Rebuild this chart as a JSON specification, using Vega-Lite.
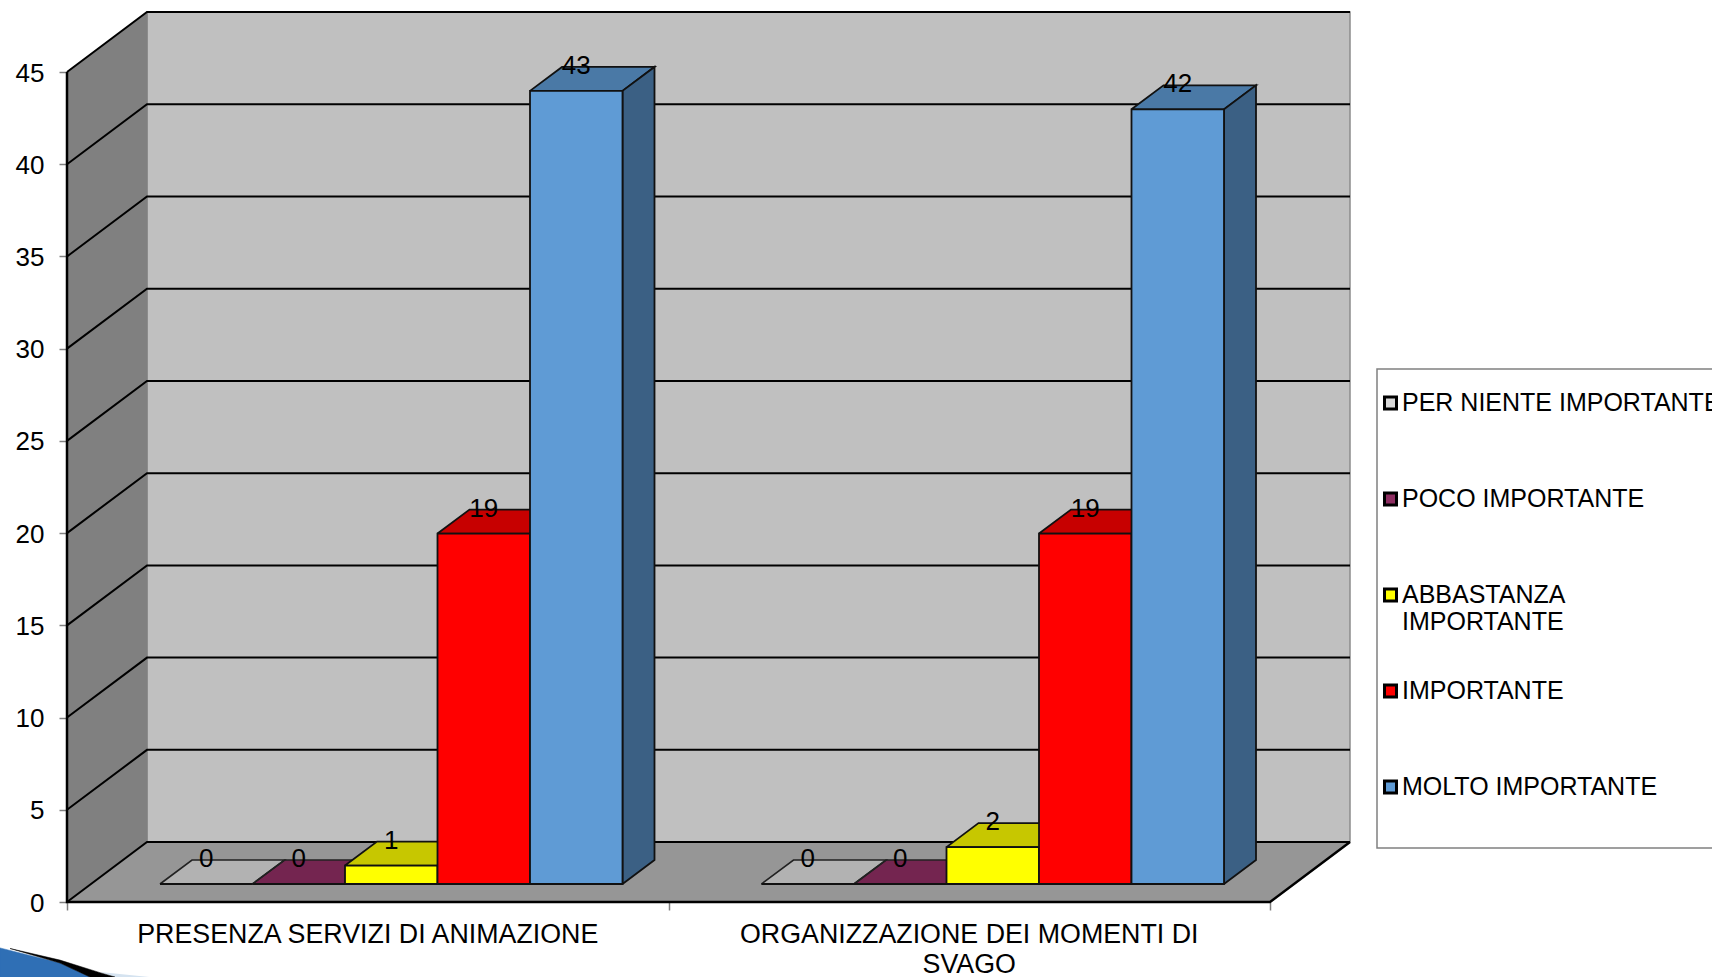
{
"$schema":"https://vega.github.io/schema/vega-lite/v6.json",
"width":1203,"height":830,
"autosize":{"type":"none"},
"padding":{"left":67,"top":72,"right":442,"bottom":75},
"background":"white",
"config":{"view":{"stroke":null},"text":{"font":"Liberation Sans"}},
"datasets":{
"bars":[
{"category":"PRESENZA SERVIZI DI ANIMAZIONE","series":"PER NIENTE IMPORTANTE","value":0},
{"category":"PRESENZA SERVIZI DI ANIMAZIONE","series":"POCO IMPORTANTE","value":0},
{"category":"PRESENZA SERVIZI DI ANIMAZIONE","series":"ABBASTANZA IMPORTANTE","value":1},
{"category":"PRESENZA SERVIZI DI ANIMAZIONE","series":"IMPORTANTE","value":19},
{"category":"PRESENZA SERVIZI DI ANIMAZIONE","series":"MOLTO IMPORTANTE","value":43},
{"category":"ORGANIZZAZIONE DEI MOMENTI DI SVAGO","series":"PER NIENTE IMPORTANTE","value":0},
{"category":"ORGANIZZAZIONE DEI MOMENTI DI SVAGO","series":"POCO IMPORTANTE","value":0},
{"category":"ORGANIZZAZIONE DEI MOMENTI DI SVAGO","series":"ABBASTANZA IMPORTANTE","value":2},
{"category":"ORGANIZZAZIONE DEI MOMENTI DI SVAGO","series":"IMPORTANTE","value":19},
{"category":"ORGANIZZAZIONE DEI MOMENTI DI SVAGO","series":"MOLTO IMPORTANTE","value":42}
],
"ticks":[{"v":0},{"v":5},{"v":10},{"v":15},{"v":20},{"v":25},{"v":30},{"v":35},{"v":40},{"v":45}],
"cats":[{"category":"PRESENZA SERVIZI DI ANIMAZIONE","c":0},{"category":"ORGANIZZAZIONE DEI MOMENTI DI SVAGO","c":1}],
"one":[{"part":"shape"}]
},
"layer":[
{"data":{"name":"one"},
 "transform":[{"calculate":"[80,1283,1283,80,80]","as":"px"},{"calculate":"[3.25,3.25,48.25,48.25,3.25]","as":"py"},{"calculate":"[0,1,2,3,4]","as":"k"},{"flatten":["px","py","k"]}],
 "mark":{"type":"line","fill":"#c0c0c0","stroke":"#8c8c8c","strokeWidth":1.5},
 "encoding":{
  "x":{"field":"px","type":"quantitative","scale":{"domain":[0,1203],"nice":false,"zero":false},"axis":{"values":[0,601.5,1203],"labels":false,"domain":false,"grid":false,"title":null,"tickColor":"#808080","tickSize":8,"tickWidth":1.5}},
  "y":{"field":"py","type":"quantitative","scale":{"domain":[0,45],"nice":false,"zero":false},"axis":{"values":[0,5,10,15,20,25,30,35,40,45],"domain":false,"grid":false,"title":null,"tickColor":"#808080","tickSize":8,"tickWidth":1.5,"labelFont":"Liberation Sans","labelFontSize":26,"labelColor":"black","labelPadding":15,"labelOffset":1}},
  "order":{"field":"k","type":"ordinal"}}},
{"data":{"name":"one"},
 "transform":[{"calculate":"[0,80,80,0,0]","as":"px"},{"calculate":"[0,3.25,48.25,45,0]","as":"py"},{"calculate":"[0,1,2,3,4]","as":"k"},{"flatten":["px","py","k"]}],
 "mark":{"type":"line","fill":"#808080","stroke":"#808080","strokeWidth":1},
 "encoding":{
  "x":{"field":"px","type":"quantitative"},
  "y":{"field":"py","type":"quantitative"},
  "order":{"field":"k","type":"ordinal"}}},
{"data":{"name":"one"},
 "transform":[{"calculate":"[0,1203,1283,80,0]","as":"px"},{"calculate":"[0,0,3.25,3.25,0]","as":"py"},{"calculate":"[0,1,2,3,4]","as":"k"},{"flatten":["px","py","k"]}],
 "mark":{"type":"line","fill":"#969696","stroke":"#969696","strokeWidth":1},
 "encoding":{
  "x":{"field":"px","type":"quantitative"},
  "y":{"field":"py","type":"quantitative"},
  "order":{"field":"k","type":"ordinal"}}},
{"data":{"name":"ticks"},
 "transform":[{"calculate":"[0,80,1283]","as":"px"},{"calculate":"[datum.v,datum.v+3.25,datum.v+3.25]","as":"py"},{"calculate":"[0,1,2]","as":"k"},{"flatten":["px","py","k"]}],
 "mark":{"type":"line","stroke":"black","strokeWidth":2},
 "encoding":{
  "x":{"field":"px","type":"quantitative"},
  "y":{"field":"py","type":"quantitative"},
  "detail":{"field":"v"},
  "order":{"field":"k","type":"ordinal"}}},
{"data":{"name":"one"},
 "transform":[{"calculate":"[0,0,1203,1283]","as":"px"},{"calculate":"[45,0,0,3.25]","as":"py"},{"calculate":"[0,1,2,3]","as":"k"},{"flatten":["px","py","k"]}],
 "mark":{"type":"line","stroke":"black","strokeWidth":2.5},
 "encoding":{
  "x":{"field":"px","type":"quantitative"},
  "y":{"field":"py","type":"quantitative"},
  "order":{"field":"k","type":"ordinal"}}},
{"data":{"name":"one"},
 "transform":[{"calculate":"[33,83,48,33]","as":"px"},{"calculate":"[-3.8,-4.07,-4.07,-3.8]","as":"py"},{"calculate":"[0,1,2,3]","as":"k"},{"flatten":["px","py","k"]}],
 "mark":{"type":"line","fill":"#d5e3f0","stroke":null},
 "encoding":{
  "x":{"field":"px","type":"quantitative"},
  "y":{"field":"py","type":"quantitative"},
  "order":{"field":"k","type":"ordinal"}}},
{"data":{"name":"one"},
 "transform":[{"calculate":"[-67,-7,23,-67,-67]","as":"px"},{"calculate":"[-2.49,-3.31,-4.07,-4.07,-2.49]","as":"py"},{"calculate":"[0,1,2,3,4]","as":"k"},{"flatten":["px","py","k"]}],
 "mark":{"type":"line","fill":"#2f6fb5","stroke":"#2f6fb5","strokeWidth":0.5},
 "encoding":{
  "x":{"field":"px","type":"quantitative"},
  "y":{"field":"py","type":"quantitative"},
  "order":{"field":"k","type":"ordinal"}}},
{"data":{"name":"one"},
 "transform":[{"calculate":"[-57,-7,33,48,23,-7,-57]","as":"px"},{"calculate":"[-2.52,-3.15,-3.83,-4.07,-4.07,-3.31,-2.52]","as":"py"},{"calculate":"[0,1,2,3,4,5,6]","as":"k"},{"flatten":["px","py","k"]}],
 "mark":{"type":"line","fill":"black","stroke":"black","strokeWidth":0.5},
 "encoding":{
  "x":{"field":"px","type":"quantitative"},
  "y":{"field":"py","type":"quantitative"},
  "order":{"field":"k","type":"ordinal"}}},
{"data":{"name":"one"},
 "mark":{"type":"rect","fill":"white","stroke":"#808080","strokeWidth":1.5},
 "encoding":{
  "x":{"datum":1310,"type":"quantitative"},
  "x2":{"datum":1700},
  "y":{"datum":28.9,"type":"quantitative"},
  "y2":{"datum":2.93}}},
{"data":{"name":"bars"},
 "transform":[
  {"calculate":"indexof(['PRESENZA SERVIZI DI ANIMAZIONE','ORGANIZZAZIONE DEI MOMENTI DI SVAGO'],datum.category)","as":"c"},
  {"calculate":"indexof(['PER NIENTE IMPORTANTE','POCO IMPORTANTE','ABBASTANZA IMPORTANTE','IMPORTANTE','MOLTO IMPORTANTE'],datum.series)","as":"s"},
  {"calculate":"datum.c*601.5+93+datum.s*92.5","as":"x0"},
  {"calculate":"datum.x0+92.5","as":"x1"},
  {"calculate":"0.976","as":"yb"},
  {"calculate":"datum.value+0.976","as":"yt"}
 ],
 "layer":[
  {"transform":[{"filter":"datum.value==0"},{"calculate":"[datum.x0,datum.x1,datum.x1+32,datum.x0+32,datum.x0]","as":"px"},{"calculate":"[datum.yt,datum.yt,datum.yt+1.3,datum.yt+1.3,datum.yt]","as":"py"},{"calculate":"[0,1,2,3,4]","as":"k"},{"flatten":["px","py","k"]}],
   "encoding":{
    "x":{"field":"px","type":"quantitative"},
    "y":{"field":"py","type":"quantitative"},
    "detail":[{"field":"category"},{"field":"series"}],
    "order":{"field":"k","type":"ordinal"}},
   "layer":[
    {"mark":{"type":"line","stroke":null},"encoding":{"fill":{"field":"series","type":"nominal"}}},
    {"mark":{"type":"line","fill":"black","fillOpacity":0.18,"stroke":"#222222","strokeWidth":1.6}}
   ]},
  {"transform":[{"filter":"datum.value>0"},{"calculate":"[datum.x0,datum.x1,datum.x1+32,datum.x0+32,datum.x0]","as":"px"},{"calculate":"[datum.yt,datum.yt,datum.yt+1.3,datum.yt+1.3,datum.yt]","as":"py"},{"calculate":"[0,1,2,3,4]","as":"k"},{"flatten":["px","py","k"]}],
   "encoding":{
    "x":{"field":"px","type":"quantitative"},
    "y":{"field":"py","type":"quantitative"},
    "detail":[{"field":"category"},{"field":"series"}],
    "order":{"field":"k","type":"ordinal"}},
   "layer":[
    {"mark":{"type":"line","stroke":null},"encoding":{"fill":{"field":"series","type":"nominal"}}},
    {"mark":{"type":"line","fill":"black","fillOpacity":0.22,"stroke":"#111111","strokeWidth":1.8}}
   ]},
  {"transform":[{"filter":"datum.value>0"},{"calculate":"[datum.x1,datum.x1+32,datum.x1+32,datum.x1,datum.x1]","as":"px"},{"calculate":"[datum.yb,datum.yb+1.3,datum.yt+1.3,datum.yt,datum.yb]","as":"py"},{"calculate":"[0,1,2,3,4]","as":"k"},{"flatten":["px","py","k"]}],
   "encoding":{
    "x":{"field":"px","type":"quantitative"},
    "y":{"field":"py","type":"quantitative"},
    "detail":[{"field":"category"},{"field":"series"}],
    "order":{"field":"k","type":"ordinal"}},
   "layer":[
    {"mark":{"type":"line","stroke":null},"encoding":{"fill":{"field":"series","type":"nominal"}}},
    {"mark":{"type":"line","fill":"black","fillOpacity":0.38,"stroke":"#111111","strokeWidth":1.8}}
   ]},
  {"mark":{"type":"rect","stroke":"#111111","strokeWidth":1.8},
   "encoding":{
    "x":{"field":"x0","type":"quantitative"},
    "x2":{"field":"x1"},
    "y":{"field":"yb","type":"quantitative"},
    "y2":{"field":"yt"},
    "fill":{"field":"series","type":"nominal",
     "scale":{"domain":["PER NIENTE IMPORTANTE","POCO IMPORTANTE","ABBASTANZA IMPORTANTE","IMPORTANTE","MOLTO IMPORTANTE"],"range":["#d9d9d9","#8e2e62","#ffff00","#ff0000","#5f9bd5"]},
     "legend":{"orient":"none","legendX":1311,"legendY":286,"title":null,"padding":0,"symbolType":"square","symbolSize":144,"symbolStrokeColor":"black","symbolStrokeWidth":3,"symbolOpacity":1,"clipHeight":90,"rowPadding":6,"labelFont":"Liberation Sans","labelFontSize":25,"labelColor":"black","labelLimit":400,"labelOffset":-1,
      "labelExpr":"datum.label=='ABBASTANZA IMPORTANTE'?['ABBASTANZA','IMPORTANTE']:datum.label",
      "encode":{"symbols":{"update":{"stroke":{"value":"black"},"strokeWidth":{"value":3}}}}}}}},
  {"mark":{"type":"text","fontSize":26,"font":"Liberation Sans","color":"black","baseline":"middle","align":"center","dy":-1},
   "encoding":{
    "x":{"field":"xc","type":"quantitative"},
    "y":{"field":"yc","type":"quantitative"},
    "text":{"field":"value","type":"quantitative"}},
   "transform":[{"calculate":"datum.x0+46.25","as":"xc"},{"calculate":"datum.yt+1.3","as":"yc"}]}
 ]},
{"data":{"name":"cats"},
 "transform":[{"calculate":"datum.c*601.5+300.75","as":"xc"},{"calculate":"0","as":"y0"},{"calculate":"replace(datum.category,' SVAGO','|SVAGO')","as":"lab"}],
 "mark":{"type":"text","fontSize":26.8,"font":"Liberation Sans","color":"black","baseline":"top","align":"center","dy":20,"lineBreak":"|","lineHeight":30},
 "encoding":{
  "x":{"field":"xc","type":"quantitative"},
  "y":{"field":"y0","type":"quantitative"},
  "text":{"field":"lab"}}}
]
}
